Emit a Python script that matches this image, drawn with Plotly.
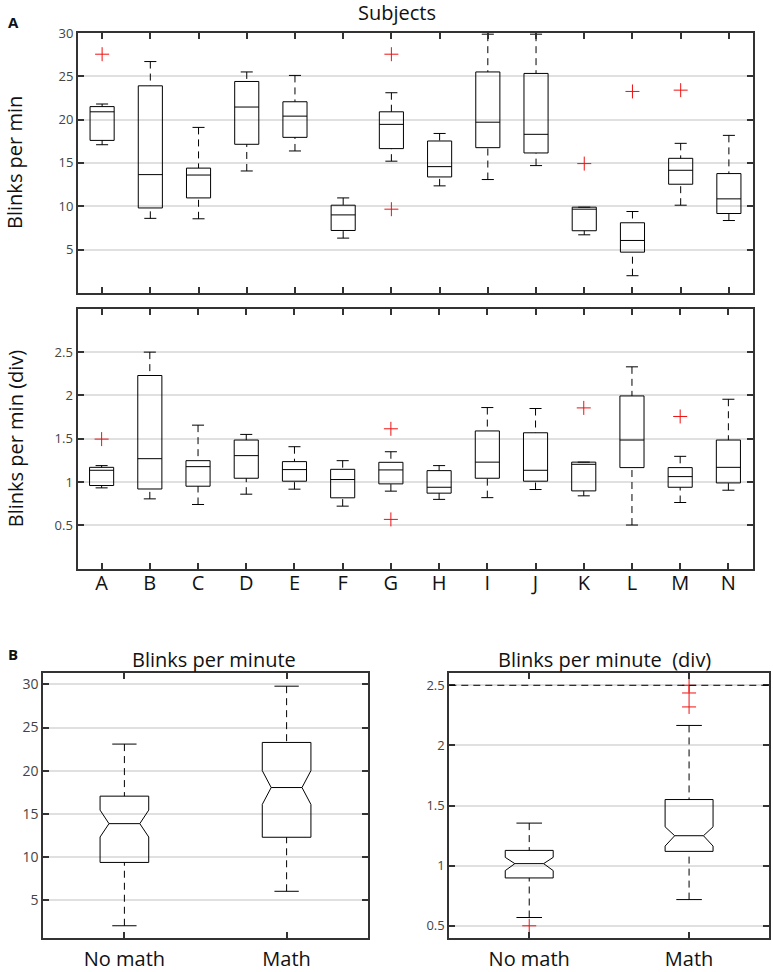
import plotly.graph_objects as go

# ---------------- data ----------------
subjects = list("ABCDEFGHIJKLMN")

pm_upper = [21.8, 26.7, 19.1, 25.5, 25.1, 10.96, 23.1, 18.4, 29.86, 29.86, 9.89, 9.39, 17.26, 18.18]
pm_q3 = [21.5, 23.9, 14.4, 24.4, 22.06, 10.12, 20.9, 17.53, 25.5, 25.33, 9.89, 8.09, 15.53, 13.77]
pm_med = [20.9, 13.65, 13.6, 21.45, 20.4, 9.0, 19.45, 14.57, 19.7, 18.3, 9.66, 6.05, 14.15, 10.85]
pm_q1 = [17.6, 9.8, 10.96, 17.15, 17.95, 7.2, 16.65, 13.38, 16.76, 16.15, 7.17, 4.7, 12.54, 9.16]
pm_lower = [17.1, 8.6, 8.55, 14.07, 16.38, 6.32, 15.2, 12.35, 13.08, 14.69, 6.7, 1.98, 10.12, 8.35]
pm_out_subj = ["A", "G", "G", "K", "L", "M"]
pm_out_val = [27.55, 27.55, 9.66, 14.92, 23.25, 23.4]

dv_upper = [1.19, 2.50, 1.657, 1.55, 1.408, 1.247, 1.35, 1.19, 1.86, 1.849, 1.23, 2.33, 1.297, 1.956]
dv_q3 = [1.17, 2.23, 1.247, 1.485, 1.236, 1.147, 1.228, 1.132, 1.59, 1.569, 1.23, 1.994, 1.167, 1.485]
dv_med = [1.136, 1.27, 1.178, 1.305, 1.144, 1.029, 1.14, 0.94, 1.23, 1.136, 1.205, 1.485, 1.063, 1.17]
dv_q1 = [0.96, 0.92, 0.952, 1.044, 1.01, 0.818, 0.979, 0.872, 1.044, 1.01, 0.898, 1.167, 0.94, 0.99]
dv_lower = [0.933, 0.806, 0.741, 0.86, 0.918, 0.722, 0.895, 0.80, 0.82, 0.914, 0.841, 0.504, 0.764, 0.906]
dv_out_subj = ["A", "G", "G", "K", "M"]
dv_out_val = [1.496, 1.615, 0.569, 1.856, 1.757]

groups = ["No math", "Math"]
g_pm_upper = [23.08, 29.8]
g_pm_q3 = [17.04, 23.27]
g_pm_nhi = [15.42, 20.0]
g_pm_med = [13.85, 18.04]
g_pm_nlo = [12.3, 16.08]
g_pm_q1 = [9.35, 12.27]
g_pm_lower = [2.0, 6.0]

g_dv_upper = [1.354, 2.166]
g_dv_q3 = [1.127, 1.55]
g_dv_nhi = [1.069, 1.323]
g_dv_med = [1.017, 1.249]
g_dv_nlo = [0.959, 1.163]
g_dv_q1 = [0.898, 1.119]
g_dv_lower = [0.569, 0.718]
g_dv_out_grp = ["No math", "Math", "Math", "Math"]
g_dv_out_val = [0.50, 2.5, 2.436, 2.32]
DIV_REF = 2.5

pm_ticks = [5, 10, 15, 20, 25, 30]
dv_ticks = [0.5, 1, 1.5, 2, 2.5]

# ---------------- helpers ----------------
W, H = 773, 972
FONT = "Open Sans"
BIG = 20


def py(y):
    # compensate a small vertical offset/scale seen in the rendered page
    return y * 980.0 / 972.0 - 8.0


def dxd(a, b):
    return [a / W, b / W]


def dyd(top, bottom):
    return [1 - py(bottom) / H, 1 - py(top) / H]


fig = go.Figure()


def add_boxes(ax, cats, upper, q3, med, q1, lower, hw, cw,
              nhi=None, nlo=None, nw=None, out_cat=None, out_val=None):
    xa, ya = ("x" + ax, "y" + ax) if ax else ("x", "y")
    pos = {c: i + 1 for i, c in enumerate(cats)}
    sx, sy, wx, wy = [], [], [], []
    for i, c in enumerate(cats):
        p = pos[c]
        if nhi is None:
            bx = [p - hw, p + hw, p + hw, p - hw, p - hw]
            by = [q1[i], q1[i], q3[i], q3[i], q1[i]]
            mx = [p - hw, p + hw]
        else:
            bx = [p - hw, p + hw, p + hw, p + nw, p + hw, p + hw, p - hw, p - hw, p - nw, p - hw, p - hw]
            by = [q1[i], q1[i], nlo[i], med[i], nhi[i], q3[i], q3[i], nhi[i], med[i], nlo[i], q1[i]]
            mx = [p - nw, p + nw]
        sx += bx + [None] + mx + [None] + [p - cw, p + cw, None, p - cw, p + cw, None]
        sy += by + [None] + [med[i], med[i], None] + [upper[i], upper[i], None, lower[i], lower[i], None]
        if upper[i] > q3[i]:
            wx += [p, p, None]
            wy += [upper[i], q3[i], None]
        if lower[i] < q1[i]:
            wx += [p, p, None]
            wy += [lower[i], q1[i], None]
    fig.add_trace(go.Scatter(x=wx, y=wy, mode="lines", xaxis=xa, yaxis=ya,
                             line=dict(color="black", width=1, dash="7px,5px"),
                             hoverinfo="skip", showlegend=False))
    fig.add_trace(go.Scatter(x=sx, y=sy, mode="lines", xaxis=xa, yaxis=ya,
                             line=dict(color="black", width=1),
                             hoverinfo="skip", showlegend=False))
    if out_cat:
        fig.add_trace(go.Scatter(x=[pos[c] for c in out_cat], y=out_val, mode="markers",
                                 xaxis=xa, yaxis=ya,
                                 marker=dict(symbol="cross-thin", size=10,
                                             line=dict(color="#ee1111", width=1)),
                                 showlegend=False))


add_boxes("", subjects, pm_upper, pm_q3, pm_med, pm_q1, pm_lower, 0.25, 0.125,
          out_cat=pm_out_subj, out_val=pm_out_val)
add_boxes("2", subjects, dv_upper, dv_q3, dv_med, dv_q1, dv_lower, 0.25, 0.125,
          out_cat=dv_out_subj, out_val=dv_out_val)
add_boxes("3", groups, g_pm_upper, g_pm_q3, g_pm_med, g_pm_q1, g_pm_lower, 0.15, 0.075,
          nhi=g_pm_nhi, nlo=g_pm_nlo, nw=0.095)
add_boxes("4", groups, g_dv_upper, g_dv_q3, g_dv_med, g_dv_q1, g_dv_lower, 0.15, 0.08,
          nhi=g_dv_nhi, nlo=g_dv_nlo, nw=0.09, out_cat=g_dv_out_grp, out_val=g_dv_out_val)

AX = "#333333"
GRID = "#e0e0e0"
TICKC = "#444444"


def xaxis(domain, anchor, n, labels, show, standoff=0):
    return dict(domain=domain, anchor=anchor, range=[0.5, n + 0.5],
                tickvals=list(range(1, n + 1)), ticktext=labels, showticklabels=show,
                ticks="inside", ticklen=6, tickwidth=1.5, tickcolor=AX,
                showline=True, linecolor=AX, linewidth=2, mirror="ticks",
                showgrid=False, zeroline=False, ticklabelstandoff=standoff,
                tickfont=dict(family=FONT, size=BIG, color="#111111"))


def yaxis(domain, anchor, rng, ticks, size):
    return dict(domain=domain, anchor=anchor, range=rng, tickvals=ticks,
                ticks="inside", ticklen=6, tickwidth=1.5, tickcolor=AX,
                showline=True, linecolor=AX, linewidth=2, mirror="ticks",
                showgrid=True, gridcolor=GRID, gridwidth=1.5, zeroline=False,
                tickfont=dict(family=FONT, size=size, color=TICKC))


fig.update_layout(
    width=W, height=H, margin=dict(l=0, r=0, t=0, b=0),
    paper_bgcolor="white", plot_bgcolor="white", showlegend=False,
    font=dict(family=FONT, color="#111111"),
    xaxis=xaxis(dxd(78, 753), "y", len(subjects), subjects, False),
    yaxis=yaxis(dyd(32, 293), "x", [0, 30], pm_ticks, 13),
    xaxis2=xaxis(dxd(77.5, 752.5), "y2", len(subjects), subjects, True, -5),
    yaxis2=yaxis(dyd(309, 570), "x2", [0, 3], dv_ticks, 13),
    xaxis3=xaxis(dxd(43.3, 367.7), "y3", len(groups), groups, True, 2),
    yaxis3=yaxis(dyd(675, 940.7), "x3", [0.6, 31.3], pm_ticks, 14),
    xaxis4=xaxis(dxd(449.3, 769), "y4", len(groups), groups, True, 2),
    yaxis4=yaxis(dyd(675, 940.7), "x4", [0.4, 2.6], dv_ticks, 13),
)

fig.add_shape(type="line", xref="x4 domain", yref="y4", x0=0, x1=1, y0=DIV_REF, y1=DIV_REF,
              line=dict(color="black", width=1, dash="7px,5px"))


def ann(text, px, pyy, size, bold=False, angle=0):
    fig.add_annotation(text=("<b>%s</b>" % text) if bold else text,
                       x=px / W, y=1 - py(pyy) / H, xref="paper", yref="paper",
                       xanchor="center", yanchor="middle", showarrow=False,
                       textangle=angle, font=dict(family=FONT, size=size, color="#111111"))


ann("A", 13.5, 21, 15, bold=True)
ann("B", 13, 656, 15, bold=True)
ann("Subjects", 397, 11, BIG)
ann("Blinks per min", 15, 162.5, BIG, angle=-90)
ann("Blinks per min (div)", 15, 439, BIG, angle=-90)
ann("Blinks per minute", 214, 661, BIG)
ann("Blinks per minute\u00a0 (div)", 604.5, 661, BIG)

POST = ("var gd=document.getElementById('{plot_id}');"
        "gd.style.position='fixed';gd.style.top='0px';gd.style.left='0px';"
        "document.body.style.margin='0';"
        "document.documentElement.style.overflow='hidden';")

fig.write_html("out.html", config={"displayModeBar": False}, post_script=POST)
